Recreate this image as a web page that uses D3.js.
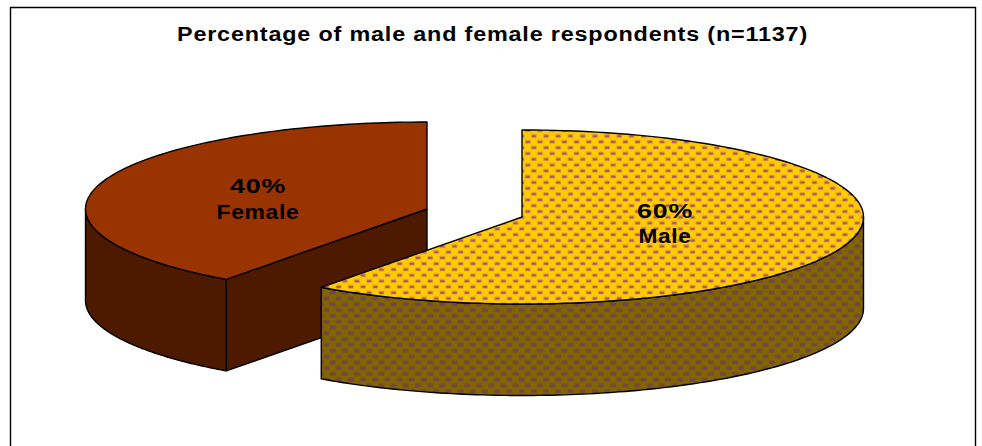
<!DOCTYPE html>
<html><head><meta charset="utf-8">
<script src="https://cdnjs.cloudflare.com/ajax/libs/d3/7.8.5/d3.min.js"></script>
<style>html,body{margin:0;padding:0;background:#fff;overflow:hidden}svg{display:block}</style>
</head><body>
<script>
const categories = ["Male", "Female"];
const values = [60, 40];
const chartTitle = "Percentage of male and female respondents (n=1137)";

const W = 982, H = 446;
const svg = d3.select("body").append("svg").attr("width", W).attr("height", H);
const defs = svg.append("defs");

function dotted(id, base, halo, dot) {
  const p = defs.append("pattern").attr("id", id).attr("patternUnits", "userSpaceOnUse")
    .attr("width", 12.2).attr("height", 11.6);
  p.append("rect").attr("width", 12.2).attr("height", 11.6).attr("fill", base);
  [[1, 1.6], [7.1, 7.4]].forEach(([x, y]) => {
    p.append("rect").attr("x", x - 1).attr("y", y - 1).attr("width", 6.4).attr("height", 4.2)
      .attr("rx", 1.2).attr("fill", halo);
    p.append("rect").attr("x", x).attr("y", y).attr("width", 4.4).attr("height", 2.2)
      .attr("fill", dot);
  });
}
dotted("malePat", "#FFCC00", "#F0AE18", "#A8507A");
dotted("maleSide", "#806600", "#765418", "#7A3A62");

svg.append("path").attr("d", `M10.5,${H + 5}V7.5H975.5V${H + 5}`)
  .attr("fill", "none").attr("stroke", "#000").attr("stroke-width", 1.4);

const fontFace = "Liberation Sans";
svg.append("text").attr("x", 177).attr("y", 41)
  .attr("textLength", 631).attr("lengthAdjust", "spacingAndGlyphs")
  .attr("font-family", fontFace).attr("font-weight", "bold").attr("font-size", 20)
  .attr("letter-spacing", 0.7)
  .attr("fill", "#000").text(chartTitle);

const slices = d3.pie().sort(null).startAngle(0).endAngle(2 * Math.PI)(values);
const rx = 341.5, ry = 87, depth = 91.5;
const layout = {
  Male:   {cx: 522, cy: 217, top: "url(#malePat)", side: "url(#maleSide)", lx: 665, y1: 218, y2: 243, w1: 56, w2: 53},
  Female: {cx: 427, cy: 209, top: "#993300", side: "#4D1A00", lx: 258, y1: 193, y2: 219, w1: 56, w2: 83}
};
const px = a => rx * Math.sin(a), py = a => -ry * Math.cos(a);
const line = d3.line();
const arcPts = (a0, a1, c, dz = 0) => d3.range(0, 121).map(i => {
  const a = a0 + (a1 - a0) * i / 120;
  return [c.cx + px(a), c.cy + py(a) + dz];
});
const draw = (g, pts, fill) => g.append("path")
  .attr("d", line(pts) + "Z")
  .attr("fill", fill).attr("stroke", "#000").attr("stroke-width", 1.4).attr("stroke-linejoin", "round");

[1, 0].forEach(i => {
  const s = slices[i], c = layout[categories[i]];
  const g = svg.append("g");
  const a0 = s.startAngle, a1 = s.endAngle;
  const wallA = Math.max(a0, Math.PI / 2), wallB = Math.min(a1, 3 * Math.PI / 2);
  if (i === 1) {
    const e = [c.cx + px(a0), c.cy + py(a0)];
    draw(g, [[c.cx, c.cy], e, [e[0], e[1] + depth], [c.cx, c.cy + depth]], c.side);
  }
  draw(g, [...arcPts(wallA, wallB, c), ...arcPts(wallA, wallB, c, depth).reverse()], c.side);
  draw(g, [[c.cx, c.cy], ...arcPts(a0, a1, c)], c.top);
  const label = (txt, y, w) => g.append("text").attr("x", c.lx - w / 2).attr("y", y)
    .attr("textLength", w).attr("lengthAdjust", "spacingAndGlyphs")
    .attr("font-family", fontFace).attr("font-weight", "bold").attr("font-size", 19.5)
    .attr("letter-spacing", 0.6)
    .attr("fill", "#000").text(txt);
  label(d3.format(".0f")(values[i]) + "%", c.y1, c.w1);
  label(categories[i], c.y2, c.w2);
});
</script>
</body></html>
